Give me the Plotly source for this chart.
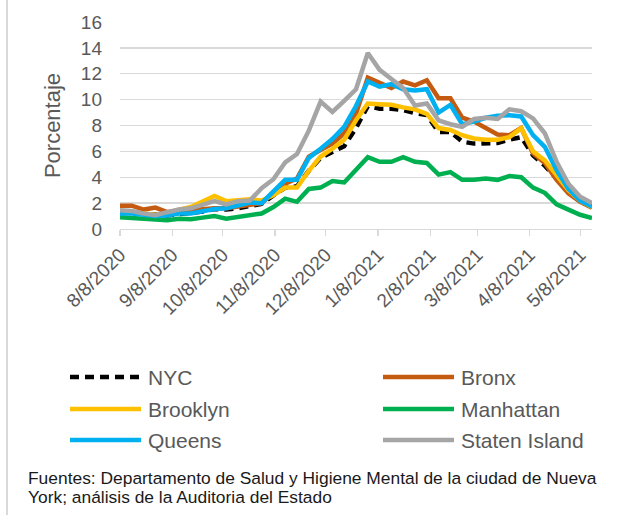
import plotly.graph_objects as go

dates = [
    "2020-08-08", "2020-08-15", "2020-08-22", "2020-08-29", "2020-09-05", "2020-09-12",
    "2020-09-19", "2020-09-26", "2020-10-03", "2020-10-10", "2020-10-17", "2020-10-24",
    "2020-10-31", "2020-11-07", "2020-11-14", "2020-11-21", "2020-11-28", "2020-12-05",
    "2020-12-12", "2020-12-19", "2020-12-26", "2021-01-02", "2021-01-09", "2021-01-16",
    "2021-01-23", "2021-01-30", "2021-02-06", "2021-02-13", "2021-02-20", "2021-02-27",
    "2021-03-06", "2021-03-13", "2021-03-20", "2021-03-27", "2021-04-03", "2021-04-10",
    "2021-04-17", "2021-04-24", "2021-05-01", "2021-05-08", "2021-05-15",
]

nyc = [1.3, 1.25, 1.2, 1.1, 1.05, 1.15, 1.25, 1.35, 1.55, 1.5, 1.6, 1.75, 1.95, 2.6, 3.2,
       3.3, 4.5, 5.5, 6.0, 6.4, 7.8, 9.5, 9.3, 9.3, 9.2, 8.95, 8.8, 7.5, 7.5, 6.75,
       6.6, 6.6, 6.65, 6.9, 7.1, 5.7, 4.9, 3.9, 2.85, 2.15, 1.7]
bronx = [1.8, 1.8, 1.5, 1.65, 1.3, 1.45, 1.45, 1.55, 1.6, 1.6, 1.75, 1.85, 2.0, 2.8, 3.5,
         3.9, 5.6, 6.1, 6.6, 7.4, 8.9, 11.7, 11.3, 10.9, 11.4, 11.1, 11.5, 10.1, 10.1, 8.6,
         8.3, 7.8, 7.3, 7.25, 7.8, 5.85, 5.1, 3.8, 2.75, 2.1, 1.65]
brooklyn = [1.3, 1.3, 1.2, 1.1, 1.2, 1.5, 1.7, 2.1, 2.55, 2.15, 2.25, 2.3, 2.2, 2.6, 3.2,
            3.2, 4.5, 5.6, 6.2, 6.9, 8.4, 9.7, 9.65, 9.6, 9.4, 9.25, 8.9, 7.8, 7.65, 7.25,
            7.0, 6.9, 6.9, 7.1, 7.8, 6.0, 5.3, 4.15, 3.0, 2.2, 1.7]
manhattan = [0.9, 0.85, 0.8, 0.72, 0.67, 0.8, 0.75, 0.88, 1.0, 0.8, 0.93, 1.06, 1.2, 1.7, 2.35,
             2.1, 3.1, 3.2, 3.7, 3.6, 4.6, 5.55, 5.2, 5.2, 5.55, 5.2, 5.1, 4.2, 4.4, 3.8,
             3.8, 3.9, 3.8, 4.1, 4.0, 3.2, 2.8, 1.9, 1.5, 1.1, 0.85]
queens = [1.2, 1.2, 1.1, 1.0, 1.05, 1.2, 1.2, 1.4, 1.55, 1.6, 1.8, 2.05, 2.0, 2.95, 3.8,
          3.8, 5.5, 6.2, 6.95, 7.9, 9.5, 11.4, 11.0, 11.2, 10.8, 10.7, 10.8, 9.0, 9.6, 8.1,
          8.3, 8.6, 8.75, 8.8, 8.7, 7.25, 6.35, 4.55, 3.1, 2.2, 1.75]
staten_island = [1.45, 1.4, 1.2, 1.06, 1.3, 1.5, 1.6, 1.9, 2.15, 1.9, 2.15, 2.2, 3.15, 3.85, 5.15,
                 5.8, 7.6, 9.85, 9.05, 9.9, 10.8, 13.6, 12.3, 11.6, 10.9, 9.55, 9.7, 8.4, 8.1, 7.9,
                 8.5, 8.6, 8.5, 9.25, 9.1, 8.55, 7.4, 5.2, 3.5, 2.5, 2.0]

tick_dates = ["2020-08-08", "2020-09-08", "2020-10-08", "2020-11-08", "2020-12-08",
              "2021-01-08", "2021-02-08", "2021-03-08", "2021-04-08", "2021-05-08"]
tick_labels = ["8/8/2020", "9/8/2020", "10/8/2020", "11/8/2020", "12/8/2020",
               "1/8/2021", "2/8/2021", "3/8/2021", "4/8/2021", "5/8/2021"]

series_names = ["NYC", "Bronx", "Brooklyn", "Manhattan", "Queens", "Staten Island"]
series_values = [nyc, bronx, brooklyn, manhattan, queens, staten_island]
series_colors = ["#000000", "#C55A11", "#FFC000", "#00B050", "#00B0F0", "#A5A5A5"]
series_dash = ["9px,6px", "solid", "solid", "solid", "solid", "solid"]

FONT = "Liberation Sans, Arial, sans-serif"
W, H = 628, 515
ML, MR, MT, MB = 120, 36, 22, 286
PW = W - ML - MR
PH = H - MT - MB


def px(x):
    return (x - ML) / PW


def py(y):
    return (H - MB - y) / PH


fig = go.Figure()
for k in range(len(series_names)):
    fig.add_trace(go.Scatter(
        x=dates, y=series_values[k], mode="lines", name=series_names[k],
        line=dict(color=series_colors[k], width=4.5, dash=series_dash[k]),
        showlegend=False,
    ))

shapes = []
annotations = []
# left border of chart area
shapes.append(dict(type="line", xref="paper", yref="paper",
                   x0=px(7), x1=px(7), y0=py(0), y1=py(H),
                   line=dict(color="#D9D9D9", width=2)))

# manual legend (two columns, three rows)
legend_layout = [("NYC", 0, 0), ("Bronx", 1, 0), ("Brooklyn", 0, 1),
                 ("Manhattan", 1, 1), ("Queens", 0, 2), ("Staten Island", 1, 2)]
col_x = [70, 383]
row_y = [377, 409, 440]
for name, c, r in legend_layout:
    k = series_names.index(name)
    x0 = col_x[c]
    y = row_y[r]
    shapes.append(dict(type="line", xref="paper", yref="paper",
                       x0=px(x0), x1=px(x0 + 71), y0=py(y), y1=py(y),
                       line=dict(color=series_colors[k], width=4.5, dash=series_dash[k])))
    annotations.append(dict(xref="paper", yref="paper", x=px(x0 + 76), y=py(y),
                            text=name, showarrow=False, xanchor="left", yanchor="middle",
                            font=dict(family=FONT, size=21, color="#595959")))

# source note
note_lines = ["Fuentes: Departamento de Salud y Higiene Mental de la ciudad de Nueva",
              "York; análisis de la Auditoria del Estado"]
for i, t in enumerate(note_lines):
    annotations.append(dict(xref="paper", yref="paper", x=px(26), y=py(478 + 19 * i),
                            text=t, showarrow=False, xanchor="left", yanchor="middle",
                            font=dict(family=FONT, size=17.4, color="#1a1a1a")))

fig.update_layout(
    width=W, height=H,
    margin=dict(l=ML, r=MR, t=MT, b=MB, autoexpand=False),
    paper_bgcolor="white", plot_bgcolor="white",
    font=dict(family=FONT, color="#595959"),
    shapes=shapes, annotations=annotations,
    showlegend=False,
)
fig.update_xaxes(
    type="date", range=[dates[0], dates[-1]],
    tickmode="array", tickvals=tick_dates, ticktext=tick_labels,
    tickangle=-45, tickfont=dict(family=FONT, size=19, color="#595959"),
    ticks="outside", ticklen=6, tickcolor="#D9D9D9", tickwidth=1.3,
    showline=True, linecolor="#D9D9D9", linewidth=1.3,
    showgrid=False, zeroline=False,
)
fig.update_yaxes(
    range=[0, 16], dtick=2, tick0=0,
    tickfont=dict(family=FONT, size=19, color="#595959"),
    showgrid=True, gridcolor="#D9D9D9", gridwidth=1.3,
    zeroline=False, showline=False, ticks="", ticklabelstandoff=17,
    title=dict(text="Porcentaje", font=dict(family=FONT, size=22, color="#595959"), standoff=14),
)

fig.write_html(
    "out.html",
    config={"displayModeBar": False, "staticPlot": True},
    post_script="document.body.style.margin='0px';document.body.style.overflow='hidden';",
)
